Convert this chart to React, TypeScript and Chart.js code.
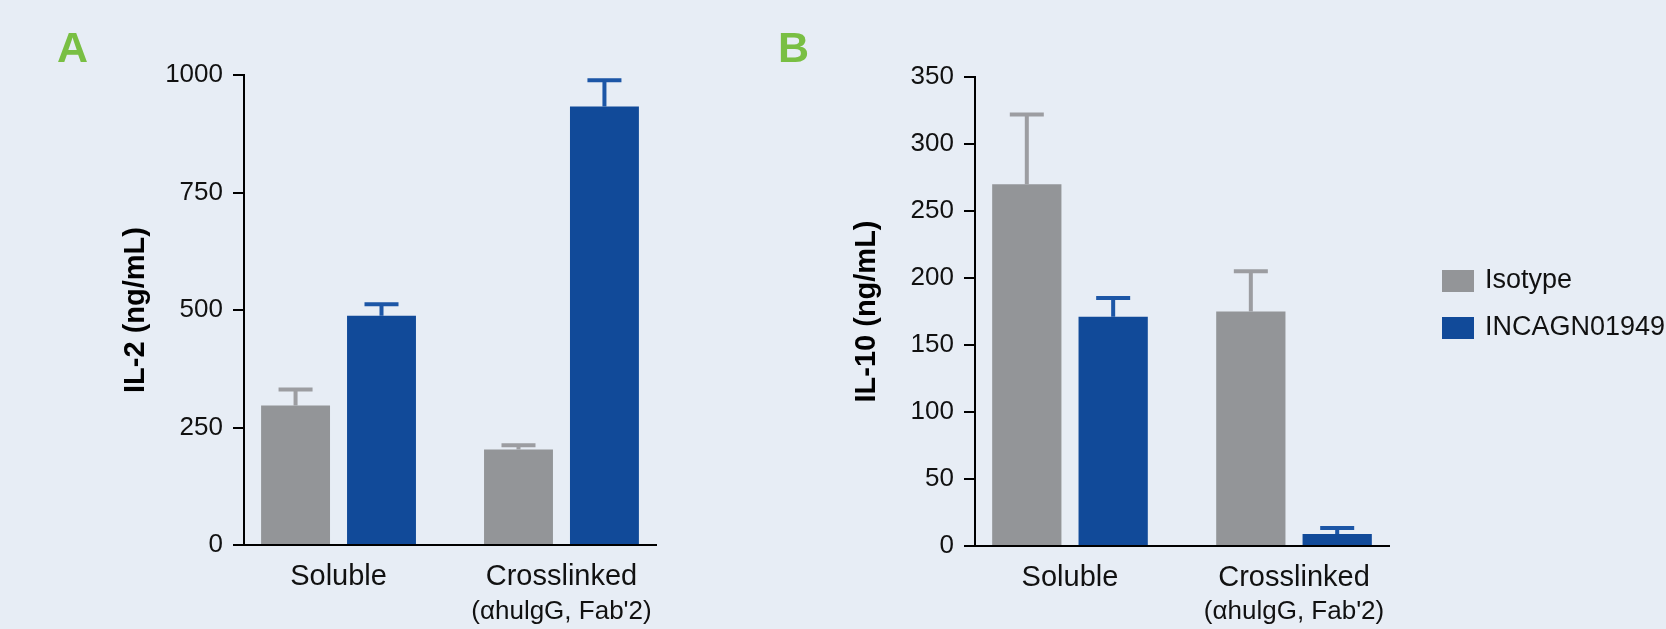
import React, { useEffect, useRef } from "react";
import { Chart, registerables } from "chart.js";

Chart.register(...registerables);

// ---- data ----
const categories = ["Soluble", "Crosslinked"];
const subLabels = ["", "(αhulgG, Fab'2)"];
const seriesNames = ["Isotype", "INCAGN01949"];

const il2Isotype = [297, 203];
const il2IsotypeErr = [34, 9];
const il2Incagn = [488, 933];
const il2IncagnErr = [24, 56];

const il10Isotype = [270, 175];
const il10IsotypeErr = [52, 30];
const il10Incagn = [171, 9];
const il10IncagnErr = [14, 4.5];

const il2TickStep = 250;
const il2Max = 1000;
const il10TickStep = 50;
const il10Max = 350;

// ---- styles ----
const BG = "#e7edf5";
const GRAY = "#939598";
const GRAY_ERR = "#9c9da1";
const BLUE = "#114a99";
const BLUE_ERR = "#1c56a6";
const GREEN = "#79bf43";
const FONT = "'Liberation Sans', Arial, Helvetica, sans-serif";

const extrasPlugin = {
  id: "extras",
  afterDatasetsDraw(chart: any) {
    const ctx = chart.ctx;
    const yScale = chart.scales.y;
    chart.data.datasets.forEach((ds: any, di: number) => {
      const meta = chart.getDatasetMeta(di);
      meta.data.forEach((el: any, i: number) => {
        const v = ds.data[i].y;
        const e = ds.errors[i];
        const yTop = yScale.getPixelForValue(v + e);
        ctx.save();
        ctx.strokeStyle = ds.errorColor;
        ctx.lineWidth = 4;
        ctx.beginPath();
        ctx.moveTo(el.x, el.y);
        ctx.lineTo(el.x, yTop);
        ctx.moveTo(el.x - 17, yTop);
        ctx.lineTo(el.x + 17, yTop);
        ctx.stroke();
        ctx.restore();
      });
    });
  },
  afterDraw(chart: any) {
    const ctx = chart.ctx;
    const o = chart.options.plugins.extras;
    const xScale = chart.scales.x;
    ctx.save();
    ctx.fillStyle = GREEN;
    ctx.font = `bold 43px ${FONT}`;
    ctx.textAlign = "left";
    ctx.textBaseline = "alphabetic";
    ctx.fillText(o.letter, o.letterX, 62);
    ctx.fillStyle = "#111";
    ctx.font = `26px ${FONT}`;
    ctx.textAlign = "center";
    ctx.textBaseline = "middle";
    subLabels.forEach((s, i) => {
      if (s) ctx.fillText(s, xScale.getPixelForValue(i), 612);
    });
    if (o.legend) {
      chart.data.datasets.forEach((ds: any, i: number) => {
        const y = 270 + i * 47;
        ctx.fillStyle = ds.backgroundColor;
        ctx.fillRect(o.legendX, y, 32, 22);
        ctx.fillStyle = "#111";
        ctx.font = `27px ${FONT}`;
        ctx.textAlign = "left";
        ctx.textBaseline = "middle";
        ctx.fillText(ds.label, o.legendX + 43, y + 11);
      });
    }
    ctx.restore();
  },
};

function makeConfig(p: any) {
  return {
    type: "bar",
    data: {
      datasets: [
        {
          label: seriesNames[0],
          data: p.iso.map((v: number, i: number) => ({ x: i, y: v })),
          errors: p.isoErr,
          errorColor: GRAY_ERR,
          backgroundColor: GRAY,
          categoryPercentage: 0.771,
          barPercentage: 0.802,
        },
        {
          label: seriesNames[1],
          data: p.inc.map((v: number, i: number) => ({ x: i, y: v })),
          errors: p.incErr,
          errorColor: BLUE_ERR,
          backgroundColor: BLUE,
          categoryPercentage: 0.771,
          barPercentage: 0.802,
        },
      ],
    },
    plugins: [extrasPlugin],
    options: {
      responsive: false,
      animation: false,
      layout: { padding: { top: p.top, right: p.right, left: 0, bottom: 0 } },
      plugins: {
        legend: { display: false },
        tooltip: { enabled: false },
        extras: { letter: p.letter, letterX: p.letterX, legend: p.legend, legendX: p.legendX },
      },
      scales: {
        x: {
          type: "linear",
          offset: false,
          min: -0.424,
          max: 1.424,
          afterBuildTicks: (scale: any) => {
            scale.ticks = categories.map((_, i) => ({ value: i }));
          },
          afterFit: (scale: any) => {
            scale.height = p.xHeight;
          },
          grid: { display: false, drawTicks: false, tickLength: 0, offset: false },
          border: { display: true, color: "#000", width: 2 },
          ticks: {
            autoSkip: false,
            maxRotation: 0,
            padding: 15,
            color: "#111",
            font: { family: FONT, size: 29 },
            callback: (_v: any, i: number) => categories[i],
          },
        },
        y: {
          min: 0,
          max: p.max,
          afterFit: (scale: any) => {
            scale.width = p.yWidth;
          },
          grid: {
            display: true,
            drawOnChartArea: false,
            drawTicks: true,
            tickLength: 11,
            color: "#000",
            lineWidth: 2,
          },
          border: { display: true, color: "#000", width: 2 },
          ticks: {
            stepSize: p.step,
            padding: 10,
            color: "#111",
            font: { family: FONT, size: 26 },
            callback: (v: any) => String(v),
          },
          title: {
            display: true,
            text: p.title,
            color: "#000",
            font: { family: FONT, size: 29, weight: "bold" },
            padding: { top: p.titlePad, bottom: 0 },
          },
        },
      },
    },
  };
}

function Panel(props: { cfg: any; left: number; width: number }) {
  const ref = useRef<HTMLCanvasElement | null>(null);
  useEffect(() => {
    if (!ref.current) return;
    const chart = new Chart(ref.current, props.cfg);
    return () => chart.destroy();
  }, []);
  return (
    <canvas
      ref={ref}
      width={props.width}
      height={629}
      style={{ position: "absolute", left: props.left, top: 0, width: props.width, height: 629, display: "block" }}
    />
  );
}

const cfgA = makeConfig({
  iso: il2Isotype,
  isoErr: il2IsotypeErr,
  inc: il2Incagn,
  incErr: il2IncagnErr,
  max: il2Max,
  step: il2TickStep,
  title: "IL-2 (ng/mL)",
  titlePad: 118.6,
  top: 75,
  right: 44,
  yWidth: 244,
  xHeight: 84,
  letter: "A",
  letterX: 57,
  legend: false,
  legendX: 0,
});

const cfgB = makeConfig({
  iso: il10Isotype,
  isoErr: il10IsotypeErr,
  inc: il10Incagn,
  incErr: il10IncagnErr,
  max: il10Max,
  step: il10TickStep,
  title: "IL-10 (ng/mL)",
  titlePad: 149.6,
  top: 77,
  right: 277,
  yWidth: 275,
  xHeight: 83,
  letter: "B",
  letterX: 78,
  legend: true,
  legendX: 742,
});

export default function App() {
  useEffect(() => {
    document.body.style.margin = "0";
    document.body.style.overflow = "hidden";
  }, []);
  return (
    <div style={{ position: "relative", width: 1666, height: 629, background: BG, overflow: "hidden" }}>
      <Panel cfg={cfgA} left={0} width={700} />
      <Panel cfg={cfgB} left={700} width={966} />
    </div>
  );
}
